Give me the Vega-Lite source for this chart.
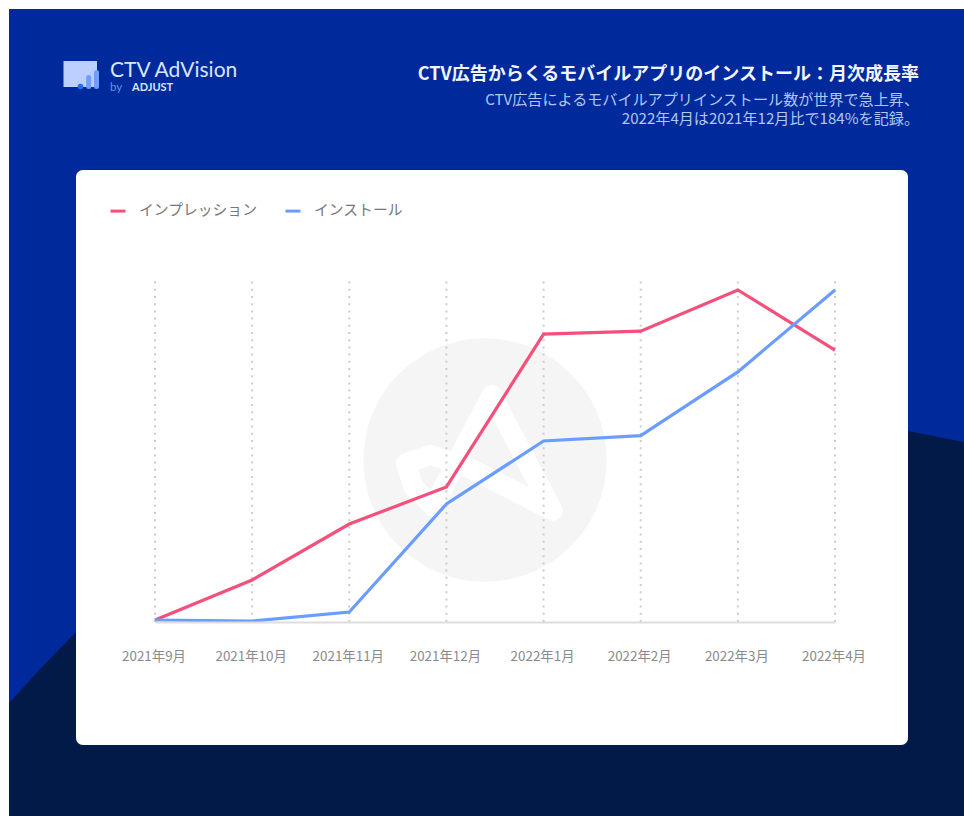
{"$schema":"https://vega.github.io/schema/vega-lite/v6.json","width":832,"height":575,"autosize":"none","padding":{"left":76,"top":170,"right":56,"bottom":71},"background":"#ffffff","config":{"view":{"stroke":null},"font":"Noto Sans CJK JP"},
"title":{"text":"CTV広告からくるモバイルアプリのインストール：月次成長率","subtitle":["CTV広告によるモバイルアプリインストール数が世界で急上昇、","2022年4月は2021年12月比で184%を記録。"],"anchor":"end","frame":"group","dx":11,"offset":-118,"font":"Noto Sans CJK JP","fontWeight":"bold","fontSize":18,"color":"#f2f5ff","subtitleFont":"Noto Sans CJK JP","subtitleFontSize":15.1,"subtitleColor":"#b3c6f4","subtitleLineHeight":19,"subtitlePadding":9},
"datasets":{"growth":[
{"month":"2021年9月","series":"インプレッション","value":1.7},{"month":"2021年10月","series":"インプレッション","value":35.6},{"month":"2021年11月","series":"インプレッション","value":83},{"month":"2021年12月","series":"インプレッション","value":114.5},{"month":"2022年1月","series":"インプレッション","value":244},{"month":"2022年2月","series":"インプレッション","value":246.5},{"month":"2022年3月","series":"インプレッション","value":281.4},{"month":"2022年4月","series":"インプレッション","value":230.5},
{"month":"2021年9月","series":"インストール","value":1.7},{"month":"2021年10月","series":"インストール","value":0.8},{"month":"2021年11月","series":"インストール","value":8.5},{"month":"2021年12月","series":"インストール","value":100},{"month":"2022年1月","series":"インストール","value":153.4},{"month":"2022年2月","series":"インストール","value":158},{"month":"2022年3月","series":"インストール","value":212},{"month":"2022年4月","series":"インストール","value":281.4}]},
"data":{"name":"growth"},
"resolve":{"scale":{"x":"independent","y":"independent"}},
"layer":[
{"data":{"values":[{"name":"page"}]},"mark":{"type":"rect","fill":"#002a9b"},"encoding":{"x":{"datum":9,"type":"quantitative","axis":null,"scale":{"domain":[76,908],"range":[0,832],"nice":false,"zero":false}},"x2":{"datum":964},"y":{"datum":9,"type":"quantitative","axis":null,"scale":{"domain":[170,745],"range":[0,575],"nice":false,"zero":false}},"y2":{"datum":816}}},
{"data":{"values":[{"px":9,"py":703,"pb":816,"seq":0},{"px":42,"py":667,"pb":816,"seq":1},{"px":76,"py":632,"pb":816,"seq":2},{"px":200,"py":540,"pb":816,"seq":3},{"px":400,"py":460,"pb":816,"seq":4},{"px":650,"py":420,"pb":816,"seq":5},{"px":800,"py":418,"pb":816,"seq":6},{"px":908,"py":431,"pb":816,"seq":7},{"px":964,"py":442,"pb":816,"seq":8}]},"mark":{"type":"area","fill":"#011a48","orient":"vertical"},"encoding":{"x":{"field":"px","type":"quantitative","axis":null,"scale":{"domain":[76,908],"range":[0,832],"nice":false,"zero":false}},"y":{"field":"py","type":"quantitative","axis":null,"scale":{"domain":[170,745],"range":[0,575],"nice":false,"zero":false}},"y2":{"field":"pb"}}},
{"data":{"values":[{"name":"card"}]},"mark":{"type":"rect","fill":"#ffffff","cornerRadius":7},"encoding":{}},
{"data":{"values":[{"name":"icon"}]},"mark":{"type":"rect","fill":"#bcd0ff"},"encoding":{"x":{"datum":63.5,"type":"quantitative","axis":null,"scale":{"domain":[76,908],"range":[0,832],"nice":false,"zero":false}},"x2":{"datum":97},"y":{"datum":61,"type":"quantitative","axis":null,"scale":{"domain":[170,745],"range":[0,575],"nice":false,"zero":false}},"y2":{"datum":87}}},
{"data":{"values":[{"name":"bar1"}]},"mark":{"type":"rule","stroke":"#6f9eff","strokeWidth":5,"strokeCap":"round"},"encoding":{"x":{"datum":88.7,"type":"quantitative","axis":null,"scale":{"domain":[76,908],"range":[0,832],"nice":false,"zero":false}},"y":{"datum":77.5,"type":"quantitative","axis":null,"scale":{"domain":[170,745],"range":[0,575],"nice":false,"zero":false}},"y2":{"datum":86.5}}},
{"data":{"values":[{"name":"bar2"}]},"mark":{"type":"rule","stroke":"#6f9eff","strokeWidth":5,"strokeCap":"round"},"encoding":{"x":{"datum":96.5,"type":"quantitative","axis":null,"scale":{"domain":[76,908],"range":[0,832],"nice":false,"zero":false}},"y":{"datum":72.5,"type":"quantitative","axis":null,"scale":{"domain":[170,745],"range":[0,575],"nice":false,"zero":false}},"y2":{"datum":86.5}}},
{"data":{"values":[{"name":"dot"}]},"mark":{"type":"point","filled":true,"fill":"#1f6bff","opacity":1,"size":31},"encoding":{"x":{"datum":80.5,"type":"quantitative","axis":null,"scale":{"domain":[76,908],"range":[0,832],"nice":false,"zero":false}},"y":{"datum":86.5,"type":"quantitative","axis":null,"scale":{"domain":[170,745],"range":[0,575],"nice":false,"zero":false}}}},
{"data":{"values":[{"label":"CTV AdVision"}]},"mark":{"type":"text","align":"left","baseline":"alphabetic","font":"Lato","fontSize":21,"fill":"#dbe5ff"},"encoding":{"text":{"field":"label"},"x":{"datum":110,"type":"quantitative","axis":null,"scale":{"domain":[76,908],"range":[0,832],"nice":false,"zero":false}},"y":{"datum":76.5,"type":"quantitative","axis":null,"scale":{"domain":[170,745],"range":[0,575],"nice":false,"zero":false}}}},
{"data":{"values":[{"label":"by"}]},"mark":{"type":"text","align":"left","baseline":"alphabetic","font":"Lato","fontSize":11.5,"fill":"#6491ea"},"encoding":{"text":{"field":"label"},"x":{"datum":110,"type":"quantitative","axis":null,"scale":{"domain":[76,908],"range":[0,832],"nice":false,"zero":false}},"y":{"datum":91,"type":"quantitative","axis":null,"scale":{"domain":[170,745],"range":[0,575],"nice":false,"zero":false}}}},
{"data":{"values":[{"label":"ADJUST"}]},"mark":{"type":"text","align":"left","baseline":"alphabetic","font":"Lato","fontWeight":"bold","fontSize":11,"fill":"#dbe5ff"},"encoding":{"text":{"field":"label"},"x":{"datum":132,"type":"quantitative","axis":null,"scale":{"domain":[76,908],"range":[0,832],"nice":false,"zero":false}},"y":{"datum":91,"type":"quantitative","axis":null,"scale":{"domain":[170,745],"range":[0,575],"nice":false,"zero":false}}}},
{"data":{"values":[{"name":"watermark"}]},"mark":{"type":"point","filled":true,"fill":"#f5f5f5","opacity":1,"size":59244},"encoding":{"x":{"datum":485,"type":"quantitative","axis":null,"scale":{"domain":[76,908],"range":[0,832],"nice":false,"zero":false}},"y":{"datum":460,"type":"quantitative","axis":null,"scale":{"domain":[170,745],"range":[0,575],"nice":false,"zero":false}}}},
{"data":{"values":[{"px":552.7,"py":510.7,"seq":0},{"px":463.3,"py":465,"seq":1},{"px":430,"py":455,"seq":2},{"px":406,"py":463.3,"seq":3},{"px":413.3,"py":486.7,"seq":4},{"px":433.3,"py":506.7,"seq":5},{"px":491.7,"py":395,"seq":6},{"px":552.7,"py":510.7,"seq":7}]},"mark":{"type":"line","stroke":"#ffffff","strokeWidth":20,"strokeCap":"round","strokeJoin":"round"},"encoding":{"x":{"field":"px","type":"quantitative","axis":null,"scale":{"domain":[76,908],"range":[0,832],"nice":false,"zero":false}},"y":{"field":"py","type":"quantitative","axis":null,"scale":{"domain":[170,745],"range":[0,575],"nice":false,"zero":false}},"order":{"field":"seq"}}},
{"transform":[{"filter":"datum.series === 'インストール'"}],"mark":{"type":"rule","stroke":"#cccccc","strokeWidth":2,"strokeDash":[2,5.2]},"encoding":{"x":{"field":"month","type":"ordinal","sort":null,"scale":{"type":"point","padding":0,"domain":["2021年9月","2021年10月","2021年11月","2021年12月","2022年1月","2022年2月","2022年3月","2022年4月"],"range":[79,759]},"axis":{"title":null,"offset":-123,"zindex":1,"labelAngle":0,"ticks":false,"grid":false,"domainColor":"#dddddd","domainWidth":2,"labelPadding":27,"labelFontSize":13.4,"labelColor":"#8a8a8a","labelFont":"Noto Sans CJK JP","labelOffset":-1.5}},"y":{"datum":0,"type":"quantitative","axis":null,"scale":{"domain":[0,289],"range":[452,111],"nice":false}},"y2":{"datum":289}}},
{"mark":{"type":"line","strokeWidth":3.2,"strokeJoin":"miter"},"encoding":{"x":{"field":"month","type":"ordinal","sort":null,"axis":null,"scale":{"type":"point","padding":0,"domain":["2021年9月","2021年10月","2021年11月","2021年12月","2022年1月","2022年2月","2022年3月","2022年4月"],"range":[79,759]}},"y":{"field":"value","type":"quantitative","axis":null,"scale":{"domain":[0,289],"range":[452,111],"nice":false}},"color":{"field":"series","type":"nominal","sort":null,"scale":{"domain":["インプレッション","インストール"],"range":["#f4507b","#6a9dff"]},"legend":{"title":null,"orient":"none","legendX":33,"legendY":32,"direction":"horizontal","symbolType":"stroke","symbolSize":225,"symbolStrokeWidth":3,"labelFontSize":14.8,"labelColor":"#777777","labelFont":"Noto Sans CJK JP","labelOffset":12,"columnPadding":21,"padding":0}}}}
]}
